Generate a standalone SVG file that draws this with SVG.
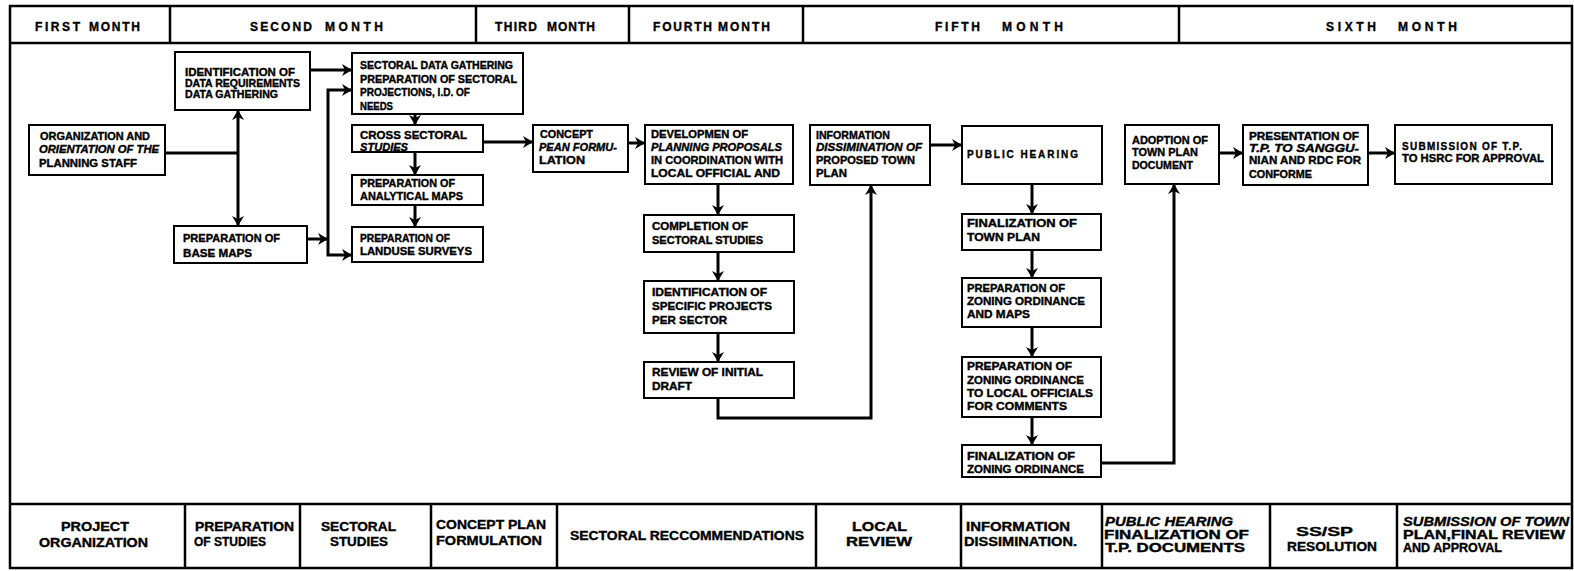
<svg xmlns="http://www.w3.org/2000/svg" width="1574" height="571" viewBox="0 0 1574 571">
  <style>
    .frame { fill: none; stroke: #000; stroke-width: 2.5; }
    .cell { fill: none; stroke: #000; stroke-width: 2.5; }
    .box { fill: #fff; stroke: #000; stroke-width: 2; }
    .wire { fill: none; stroke: #000; stroke-width: 3; stroke-linejoin: miter; }
    .arrow { marker-end: url(#head); }
    .both { marker-start: url(#head); marker-end: url(#head); }
    text { font-family: "Liberation Sans", Arial, sans-serif; font-weight: 700; fill: #000; stroke: #000; stroke-width: 0.35; }
    .t { font-size: 10px; }
    .h { font-size: 12px; }
    .b { font-size: 12px; }
    .i { font-style: italic; }
  </style>
  <defs>
    <marker id="head" viewBox="0 0 10 12" refX="10" refY="6" markerWidth="10" markerHeight="12" markerUnits="userSpaceOnUse" orient="auto-start-reverse">
      <path d="M0,0 L10,6 L0,12 L3,6 Z" fill="#000"/>
    </marker>
  </defs>

  <rect width="1574" height="571" fill="#fff"/>

  <!-- outer frame with the month band and the phase band -->
  <g id="frame">
    <rect class="frame" x="10" y="6" width="1562" height="562"/>
    <line class="cell" x1="10" y1="43" x2="1572" y2="43"/>
    <line class="cell" x1="10" y1="504" x2="1572" y2="504"/>
  </g>

  <!-- month band -->
  <g id="months">
    <line class="cell" x1="170" y1="6" x2="170" y2="43"/>
    <line class="cell" x1="476" y1="6" x2="476" y2="43"/>
    <line class="cell" x1="629" y1="6" x2="629" y2="43"/>
    <line class="cell" x1="803" y1="6" x2="803" y2="43"/>
    <line class="cell" x1="1179" y1="6" x2="1179" y2="43"/>
    <text class="h" x="35" y="31" textLength="45" lengthAdjust="spacing">FIRST</text>
    <text class="h" x="89" y="31" textLength="51" lengthAdjust="spacing">MONTH</text>
    <text class="h" x="250" y="31" textLength="62" lengthAdjust="spacing">SECOND</text>
    <text class="h" x="325" y="31" textLength="58" lengthAdjust="spacing">MONTH</text>
    <text class="h" x="495" y="31" textLength="42" lengthAdjust="spacing">THIRD</text>
    <text class="h" x="547" y="31" textLength="48" lengthAdjust="spacing">MONTH</text>
    <text class="h" x="653" y="31" textLength="59" lengthAdjust="spacing">FOURTH</text>
    <text class="h" x="718" y="31" textLength="52" lengthAdjust="spacing">MONTH</text>
    <text class="h" x="935" y="31" textLength="45" lengthAdjust="spacing">FIFTH</text>
    <text class="h" x="1002" y="31" textLength="61" lengthAdjust="spacing">MONTH</text>
    <text class="h" x="1326" y="31" textLength="50" lengthAdjust="spacing">SIXTH</text>
    <text class="h" x="1398" y="31" textLength="59" lengthAdjust="spacing">MONTH</text>
  </g>

  <!-- phase band -->
  <g id="phases">
    <line class="cell" x1="185" y1="504" x2="185" y2="568"/>
    <line class="cell" x1="300" y1="504" x2="300" y2="568"/>
    <line class="cell" x1="431" y1="504" x2="431" y2="568"/>
    <line class="cell" x1="557" y1="504" x2="557" y2="568"/>
    <line class="cell" x1="816" y1="504" x2="816" y2="568"/>
    <line class="cell" x1="961" y1="504" x2="961" y2="568"/>
    <line class="cell" x1="1102" y1="504" x2="1102" y2="568"/>
    <line class="cell" x1="1270" y1="504" x2="1270" y2="568"/>
    <line class="cell" x1="1397" y1="504" x2="1397" y2="568"/>
    <text class="b" x="61" y="531" textLength="68" lengthAdjust="spacingAndGlyphs">PROJECT</text>
    <text class="b" x="39" y="547" textLength="109" lengthAdjust="spacingAndGlyphs">ORGANIZATION</text>
    <text class="b" x="195" y="531" textLength="99" lengthAdjust="spacingAndGlyphs">PREPARATION</text>
    <text class="b" x="194" y="546" textLength="72" lengthAdjust="spacingAndGlyphs">OF STUDIES</text>
    <text class="b" x="321" y="531" textLength="75" lengthAdjust="spacingAndGlyphs">SECTORAL</text>
    <text class="b" x="330" y="546" textLength="58" lengthAdjust="spacingAndGlyphs">STUDIES</text>
    <text class="b" x="436" y="529" textLength="110" lengthAdjust="spacingAndGlyphs">CONCEPT PLAN</text>
    <text class="b" x="436" y="545" textLength="106" lengthAdjust="spacingAndGlyphs">FORMULATION</text>
    <text class="b" x="570" y="540" textLength="234" lengthAdjust="spacingAndGlyphs">SECTORAL RECCOMMENDATIONS</text>
    <text class="b" x="852" y="531" textLength="55" lengthAdjust="spacingAndGlyphs">LOCAL</text>
    <text class="b" x="846" y="546" textLength="66" lengthAdjust="spacingAndGlyphs">REVIEW</text>
    <text class="b" x="966" y="531" textLength="104" lengthAdjust="spacingAndGlyphs">INFORMATION</text>
    <text class="b" x="964" y="546" textLength="113" lengthAdjust="spacingAndGlyphs">DISSIMINATION.</text>
    <text class="b i" x="1105" y="526" textLength="128" lengthAdjust="spacingAndGlyphs">PUBLIC HEARING</text>
    <text class="b" x="1104" y="539" textLength="145" lengthAdjust="spacingAndGlyphs">FINALIZATION OF</text>
    <text class="b" x="1105" y="552" textLength="140" lengthAdjust="spacingAndGlyphs">T.P. DOCUMENTS</text>
    <text class="b" x="1296" y="536" textLength="57" lengthAdjust="spacingAndGlyphs">SS/SP</text>
    <text class="b" x="1287" y="551" textLength="90" lengthAdjust="spacingAndGlyphs">RESOLUTION</text>
    <text class="b i" x="1403" y="526" textLength="166" lengthAdjust="spacingAndGlyphs">SUBMISSION OF TOWN</text>
    <text class="b" x="1403" y="539" textLength="162" lengthAdjust="spacingAndGlyphs">PLAN,FINAL REVIEW</text>
    <text class="b" x="1403" y="552" textLength="99" lengthAdjust="spacingAndGlyphs">AND APPROVAL</text>
  </g>

  <!-- connectors -->
  <g id="connectors">
    <path class="wire" d="M165,153 H238"/>
    <path class="wire both" d="M238,110 V226"/>
    <path class="wire arrow" d="M310,70 H352"/>
    <path class="wire arrow" d="M307,239 H328"/>
    <path class="wire both" d="M352,90 H328 V255 H352"/>
    <path class="wire arrow" d="M415,114 V125"/>
    <path class="wire arrow" d="M415,152 V175"/>
    <path class="wire arrow" d="M415,205 V227"/>
    <path class="wire arrow" d="M483,142 H533"/>
    <path class="wire arrow" d="M628,143 H645"/>
    <path class="wire arrow" d="M718,184 V215"/>
    <path class="wire arrow" d="M718,252 V281"/>
    <path class="wire arrow" d="M718,333 V362"/>
    <path class="wire arrow" d="M718,398 V418 H871 V185"/>
    <path class="wire arrow" d="M930,145 H962"/>
    <path class="wire arrow" d="M1032,184 V214"/>
    <path class="wire arrow" d="M1032,250 V278"/>
    <path class="wire arrow" d="M1032,327 V357"/>
    <path class="wire arrow" d="M1032,417 V445"/>
    <path class="wire arrow" d="M1101,463 H1174 V184"/>
    <path class="wire arrow" d="M1219,153 H1243"/>
    <path class="wire arrow" d="M1368,153 H1395"/>
  </g>

  <g id="organization">
    <rect class="box" x="29" y="125" width="136" height="50"/>
    <text class="t" x="40" y="140" textLength="110" lengthAdjust="spacingAndGlyphs">ORGANIZATION AND</text>
    <text class="t i" x="39" y="153" textLength="120" lengthAdjust="spacingAndGlyphs">ORIENTATION OF THE</text>
    <text class="t" x="39" y="167" textLength="98" lengthAdjust="spacingAndGlyphs">PLANNING STAFF</text>
  </g>

  <g id="data-requirements">
    <rect class="box" x="175" y="52" width="135" height="58"/>
    <text class="t" x="185" y="76" textLength="110" lengthAdjust="spacingAndGlyphs">IDENTIFICATION OF</text>
    <text class="t" x="185" y="87" textLength="115" lengthAdjust="spacingAndGlyphs">DATA REQUIREMENTS</text>
    <text class="t" x="185" y="98" textLength="93" lengthAdjust="spacingAndGlyphs">DATA GATHERING</text>
  </g>

  <g id="base-maps">
    <rect class="box" x="174" y="226" width="133" height="37"/>
    <text class="t" x="183" y="242" textLength="97" lengthAdjust="spacingAndGlyphs">PREPARATION OF</text>
    <text class="t" x="183" y="257" textLength="69" lengthAdjust="spacingAndGlyphs">BASE MAPS</text>
  </g>

  <g id="sectoral-data">
    <rect class="box" x="352" y="53" width="171" height="61"/>
    <text class="t" x="360" y="69" textLength="153" lengthAdjust="spacingAndGlyphs">SECTORAL DATA GATHERING</text>
    <text class="t" x="360" y="83" textLength="157" lengthAdjust="spacingAndGlyphs">PREPARATION OF SECTORAL</text>
    <text class="t" x="360" y="96" textLength="110" lengthAdjust="spacingAndGlyphs">PROJECTIONS, I.D.  OF</text>
    <text class="t" x="360" y="110" textLength="33" lengthAdjust="spacingAndGlyphs">NEEDS</text>
  </g>

  <g id="cross-sectoral">
    <rect class="box" x="352" y="125" width="131" height="27"/>
    <text class="t" x="360" y="139" textLength="107" lengthAdjust="spacingAndGlyphs">CROSS SECTORAL</text>
    <text class="t i" x="360" y="151" textLength="48" lengthAdjust="spacingAndGlyphs">STUDIES</text>
  </g>

  <g id="analytical-maps">
    <rect class="box" x="352" y="175" width="131" height="30"/>
    <text class="t" x="360" y="187" textLength="95" lengthAdjust="spacingAndGlyphs">PREPARATION OF</text>
    <text class="t" x="360" y="200" textLength="103" lengthAdjust="spacingAndGlyphs">ANALYTICAL MAPS</text>
  </g>

  <g id="landuse-surveys">
    <rect class="box" x="352" y="227" width="131" height="35"/>
    <text class="t" x="360" y="242" textLength="90" lengthAdjust="spacingAndGlyphs">PREPARATION OF</text>
    <text class="t" x="360" y="255" textLength="112" lengthAdjust="spacingAndGlyphs">LANDUSE SURVEYS</text>
  </g>

  <g id="concept-plan">
    <rect class="box" x="533" y="125" width="95" height="47"/>
    <text class="t" x="540" y="138" textLength="53" lengthAdjust="spacingAndGlyphs">CONCEPT</text>
    <text class="t i" x="539" y="151" textLength="78" lengthAdjust="spacingAndGlyphs">PEAN FORMU-</text>
    <text class="t" x="539" y="164" textLength="46" lengthAdjust="spacingAndGlyphs">LATION</text>
  </g>

  <g id="planning-proposals">
    <rect class="box" x="645" y="125" width="148" height="59"/>
    <text class="t" x="651" y="138" textLength="97" lengthAdjust="spacingAndGlyphs">DEVELOPMEN OF</text>
    <text class="t i" x="651" y="151" textLength="131" lengthAdjust="spacingAndGlyphs">PLANNING PROPOSALS</text>
    <text class="t" x="651" y="164" textLength="132" lengthAdjust="spacingAndGlyphs">IN COORDINATION WITH</text>
    <text class="t" x="651" y="177" textLength="129" lengthAdjust="spacingAndGlyphs">LOCAL OFFICIAL  AND</text>
  </g>

  <g id="completion">
    <rect class="box" x="644" y="215" width="150" height="37"/>
    <text class="t" x="652" y="230" textLength="96" lengthAdjust="spacingAndGlyphs">COMPLETION OF</text>
    <text class="t" x="652" y="244" textLength="111" lengthAdjust="spacingAndGlyphs">SECTORAL STUDIES</text>
  </g>

  <g id="specific-projects">
    <rect class="box" x="644" y="281" width="150" height="52"/>
    <text class="t" x="652" y="296" textLength="115" lengthAdjust="spacingAndGlyphs">IDENTIFICATION OF</text>
    <text class="t" x="652" y="310" textLength="120" lengthAdjust="spacingAndGlyphs">SPECIFIC PROJECTS</text>
    <text class="t" x="652" y="324" textLength="75" lengthAdjust="spacingAndGlyphs">PER SECTOR</text>
  </g>

  <g id="initial-draft">
    <rect class="box" x="644" y="362" width="150" height="36"/>
    <text class="t" x="652" y="376" textLength="111" lengthAdjust="spacingAndGlyphs">REVIEW OF INITIAL</text>
    <text class="t" x="652" y="390" textLength="40" lengthAdjust="spacingAndGlyphs">DRAFT</text>
  </g>

  <g id="information">
    <rect class="box" x="810" y="125" width="120" height="60"/>
    <text class="t" x="816" y="139" textLength="74" lengthAdjust="spacingAndGlyphs">INFORMATION</text>
    <text class="t i" x="816" y="151" textLength="106" lengthAdjust="spacingAndGlyphs">DISSIMINATION OF</text>
    <text class="t" x="816" y="164" textLength="99" lengthAdjust="spacingAndGlyphs">PROPOSED TOWN</text>
    <text class="t" x="816" y="177" textLength="31" lengthAdjust="spacingAndGlyphs">PLAN</text>
  </g>

  <g id="public-hearing">
    <rect class="box" x="962" y="126" width="140" height="58"/>
    <text class="t" x="967" y="158" textLength="111" lengthAdjust="spacing">PUBLIC HEARING</text>
  </g>

  <g id="town-plan">
    <rect class="box" x="962" y="214" width="139" height="36"/>
    <text class="t" x="967" y="227" textLength="110" lengthAdjust="spacingAndGlyphs">FINALIZATION OF</text>
    <text class="t" x="967" y="241" textLength="73" lengthAdjust="spacingAndGlyphs">TOWN PLAN</text>
  </g>

  <g id="zoning-maps">
    <rect class="box" x="962" y="278" width="139" height="49"/>
    <text class="t" x="967" y="292" textLength="98" lengthAdjust="spacingAndGlyphs">PREPARATION OF</text>
    <text class="t" x="967" y="305" textLength="118" lengthAdjust="spacingAndGlyphs">ZONING ORDINANCE</text>
    <text class="t" x="967" y="318" textLength="63" lengthAdjust="spacingAndGlyphs">AND MAPS</text>
  </g>

  <g id="zoning-comments">
    <rect class="box" x="962" y="357" width="139" height="60"/>
    <text class="t" x="967" y="370" textLength="105" lengthAdjust="spacingAndGlyphs">PREPARATION OF</text>
    <text class="t" x="967" y="384" textLength="117" lengthAdjust="spacingAndGlyphs">ZONING ORDINANCE</text>
    <text class="t" x="967" y="397" textLength="126" lengthAdjust="spacingAndGlyphs">TO LOCAL OFFICIALS</text>
    <text class="t" x="967" y="410" textLength="100" lengthAdjust="spacingAndGlyphs">FOR COMMENTS</text>
  </g>

  <g id="zoning-final">
    <rect class="box" x="962" y="445" width="139" height="32"/>
    <text class="t" x="967" y="460" textLength="108" lengthAdjust="spacingAndGlyphs">FINALIZATION OF</text>
    <text class="t" x="967" y="473" textLength="117" lengthAdjust="spacingAndGlyphs">ZONING ORDINANCE</text>
  </g>

  <g id="adoption">
    <rect class="box" x="1125" y="125" width="94" height="59"/>
    <text class="t" x="1132" y="144" textLength="76" lengthAdjust="spacingAndGlyphs">ADOPTION OF</text>
    <text class="t" x="1132" y="156" textLength="66" lengthAdjust="spacingAndGlyphs">TOWN PLAN</text>
    <text class="t" x="1132" y="169" textLength="61" lengthAdjust="spacingAndGlyphs">DOCUMENT</text>
  </g>

  <g id="presentation">
    <rect class="box" x="1243" y="125" width="125" height="60"/>
    <text class="t" x="1249" y="140" textLength="110" lengthAdjust="spacingAndGlyphs">PRESENTATION OF</text>
    <text class="t i" x="1249" y="152" textLength="110" lengthAdjust="spacingAndGlyphs">T.P. TO SANGGU-</text>
    <text class="t" x="1249" y="164" textLength="112" lengthAdjust="spacingAndGlyphs">NIAN AND RDC FOR</text>
    <text class="t" x="1249" y="178" textLength="63" lengthAdjust="spacingAndGlyphs">CONFORME</text>
  </g>

  <g id="submission">
    <rect class="box" x="1395" y="125" width="157" height="59"/>
    <text class="t" x="1402" y="150" textLength="120" lengthAdjust="spacing">SUBMISSION OF T.P.</text>
    <text class="t" x="1402" y="162" textLength="142" lengthAdjust="spacingAndGlyphs">TO HSRC FOR APPROVAL</text>
  </g>
</svg>
